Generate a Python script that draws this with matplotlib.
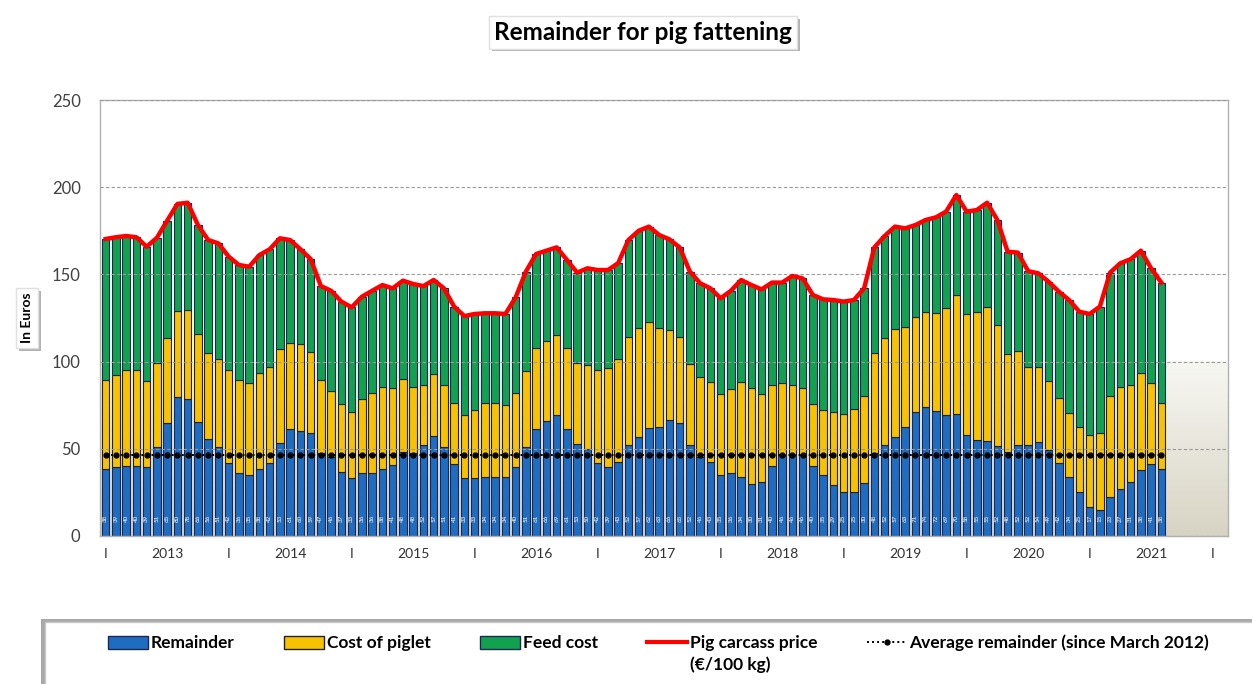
import numpy as np
import pandas as pd
import matplotlib
matplotlib.use("Agg")
from matplotlib import pyplot as plt
from matplotlib.patches import Patch, Rectangle
from matplotlib.lines import Line2D
import matplotlib.patheffects as pe
from matplotlib.colors import LinearSegmentedColormap

plt.rcParams['font.family'] = ['Lato', 'DejaVu Sans']

months = pd.date_range("2013-01", periods=104, freq="MS")
years = [str(y) for y in range(2013, 2022)]

remainder = [38.2, 39.4, 40.1, 40.1, 39.4, 51.2, 65.0, 79.5, 78.4, 65.5, 55.8, 50.9,
             42.0, 35.9, 34.8, 38.2, 42.0, 53.2, 61.2, 60.4, 59.2, 47.4, 45.5, 36.9,
             33.4, 36.1, 35.9, 38.2, 40.7, 48.3, 47.8, 52.0, 57.3, 51.2, 41.3, 33.1,
             33.1, 33.6, 34.0, 33.6, 39.7, 50.9, 61.2, 66.1, 69.4, 61.2, 52.8, 49.7,
             42.0, 39.4, 42.6, 52.2, 56.7, 61.7, 62.7, 66.5, 65.0, 52.2, 45.5, 42.6,
             35.0, 35.9, 34.0, 29.6, 31.1, 40.1, 46.4, 46.4, 46.4, 40.1, 35.0, 29.2,
             25.4, 25.0, 30.2, 47.8, 52.2, 56.9, 62.7, 71.3, 73.8, 71.9, 69.4, 70.0,
             57.9, 55.0, 54.6, 51.6, 48.3, 52.2, 52.2, 54.1, 49.3, 42.0, 33.6, 25.4,
             16.8, 14.9, 22.6, 26.8, 31.1, 37.8, 41.1, 38.2]
piglet = [51.2, 52.9, 55.1, 55.1, 49.6, 48.2, 48.3, 49.5, 51.2, 50.2, 49.0, 50.6,
          53.2, 53.5, 53.1, 55.4, 55.1, 53.8, 49.7, 49.5, 46.1, 42.0, 37.5, 38.8,
          37.9, 42.3, 46.3, 47.1, 44.0, 41.5, 37.8, 34.6, 35.6, 35.4, 35.1, 36.3,
          39.1, 42.5, 42.1, 41.5, 42.1, 43.9, 46.8, 45.9, 45.9, 46.4, 46.2, 48.3,
          53.2, 56.8, 58.7, 61.7, 62.4, 60.8, 56.4, 51.6, 48.9, 46.4, 45.9, 45.9,
          46.4, 48.2, 54.5, 55.1, 50.1, 46.5, 41.1, 40.2, 38.6, 35.6, 37.2, 42.1,
          44.6, 47.6, 50.1, 57.0, 61.1, 61.8, 57.3, 54.5, 54.8, 55.8, 61.2, 68.2,
          69.4, 73.6, 76.9, 69.4, 56.1, 53.9, 44.9, 43.0, 39.7, 37.0, 36.8, 37.3,
          41.1, 44.3, 57.7, 58.8, 55.5, 55.5, 46.4, 38.2]
feed = [80.9, 79.0, 76.8, 76.1, 76.9, 71.6, 67.5, 61.4, 61.5, 62.6, 64.9, 66.3,
        65.0, 66.0, 66.5, 67.5, 67.3, 63.7, 58.8, 54.5, 53.5, 53.9, 57.6, 58.7,
        59.8, 58.8, 58.4, 58.6, 57.3, 56.6, 58.9, 56.7, 53.9, 55.4, 55.1, 56.7,
        55.1, 51.6, 51.6, 52.2, 55.0, 56.8, 53.7, 51.6, 50.2, 50.7, 52.0, 55.5,
        57.3, 56.3, 55.1, 55.8, 55.9, 54.9, 53.5, 52.0, 51.6, 53.0, 53.5, 53.5,
        54.9, 56.5, 58.3, 59.2, 60.2, 58.7, 57.8, 62.5, 62.7, 62.5, 63.5, 64.0,
        64.4, 62.7, 61.7, 60.7, 58.7, 58.7, 56.4, 52.5, 52.6, 55.0, 55.4, 57.3,
        58.7, 58.3, 59.6, 60.2, 58.6, 56.4, 54.8, 53.5, 56.8, 61.1, 64.9, 65.9,
        69.4, 72.3, 70.7, 70.8, 72.1, 70.3, 66.0, 68.9]
avg_remainder = 46.5

remainder = np.array(remainder)
piglet = np.array(piglet)
feed = np.array(feed)
price = remainder + piglet + feed

BLUE = "#1f6dc0"
YELLOW = "#f7c200"
GREEN = "#12a24e"
EDGE = "#1b2757"

fig = plt.figure(figsize=(12.52, 6.84), dpi=100)
ax = fig.add_axes([0.0799, 0.2164, 0.9009, 0.6374])

x = np.arange(len(months))
xmin, xmax = -0.55, 109.5

# shaded background in the lower part of the plot area
cmap = LinearSegmentedColormap.from_list("bg", ["#d8d4c4", "#f7f7f3"])
grad = np.linspace(0, 1, 200).reshape(-1, 1)
ax.imshow(grad, extent=(xmin, xmax, 0, 100), origin="lower", aspect="auto",
          cmap=cmap, zorder=0)

w = 0.74
ax.bar(x, remainder, w, color=BLUE, edgecolor=EDGE, lw=0.8, zorder=2)
ax.bar(x, piglet, w, bottom=remainder, color=YELLOW, edgecolor="#202020", lw=0.8, zorder=2)
ax.bar(x, feed, w, bottom=remainder + piglet, color=GREEN, edgecolor=EDGE, lw=0.8, zorder=2)

for xi, r in zip(x, remainder):
    ax.text(xi, 10, f"{r:.0f}", rotation=90, color="white", fontsize=4.5,
            ha="center", va="center", zorder=3)

ax.plot(x, np.full(len(x), avg_remainder), color="black", ls=(0, (1, 1.6)), lw=1.4,
        marker="o", ms=3.5, zorder=4)
ax.plot(x, price, color="#ff0000", lw=3.2, solid_joinstyle="round", zorder=5)

ax.set_xlim(xmin, xmax)
ax.set_ylim(0, 250)
ax.set_yticks(range(0, 251, 50))
ax.yaxis.grid(True, color="#9a9a9a", ls=(0, (3, 2)), lw=0.8)
ax.set_axisbelow(False)
for g in ax.get_ygridlines():
    g.set_zorder(1)
ax.tick_params(axis="y", length=0, pad=14, labelsize=12, labelcolor="#404040")

ax.set_xticks(np.arange(0, 109, 12))
ax.set_xticklabels(["I"] * 10)
ax.set_xticks(np.arange(6, 103, 12), minor=True)
ax.set_xticklabels(years, minor=True)
ax.tick_params(axis="x", which="both", length=0, pad=9, labelsize=10, labelcolor="#303030")

for s in ax.spines.values():
    s.set_color("#b0b0b0")
    s.set_linewidth(1)

shadow = [pe.withSimplePatchShadow(offset=(2, -2), shadow_rgbFace="#808080", alpha=0.6)]

t = fig.text(0.5136, 0.953, "Remainder for pig fattening", ha="center", va="center",
             fontsize=17.5, fontweight="bold", color="black",
             bbox=dict(boxstyle="square,pad=0.2", fc="white", ec="#e0e0e0"))
t.get_bbox_patch().set_path_effects(shadow)

yl = fig.text(0.0216, 0.535, "In Euros", rotation=90, ha="center", va="center",
              fontsize=10, fontweight="bold",
              bbox=dict(boxstyle="square,pad=0.35", fc="white", ec="#e0e0e0"))
yl.get_bbox_patch().set_path_effects(shadow)

box = Rectangle((0.036, -0.05), 1.0, 0.1406, transform=fig.transFigure,
                fc="white", ec="#c8c8c8", lw=1)
box.set_path_effects([pe.withSimplePatchShadow(offset=(-3, 2), shadow_rgbFace="#707070", alpha=0.6)])
fig.add_artist(box)

handles = [
    Patch(fc=BLUE, ec=EDGE),
    Patch(fc=YELLOW, ec="#202020"),
    Patch(fc=GREEN, ec=EDGE),
    Line2D([], [], color="#ff0000", lw=3),
    Line2D([], [], color="black", ls=(0, (1, 1.6)), lw=1.4, marker="o", ms=3.5),
]
labels = ["Remainder", "Cost of piglet", "Feed cost", "Pig carcass price",
          "Average remainder (since March 2012)"]
leg = fig.legend(handles, labels, ncol=5, loc="center left", bbox_to_anchor=(0.081, 0.060),
                 frameon=False, fontsize=12.5, handlelength=2.3, handleheight=0.75,
                 handletextpad=0.15, columnspacing=2.85, borderaxespad=0)
for txt in leg.get_texts():
    txt.set_fontweight("bold")

fig.canvas.draw()
# second line of the carcass price label, under the first one
bb = leg.get_texts()[3].get_window_extent()
fx = bb.x0 / fig.bbox.width
fig.text(fx, 0.028, "(€/100 kg)", ha="left", va="center", fontsize=12.5, fontweight="bold")

fig.savefig("out.png", dpi=100)
